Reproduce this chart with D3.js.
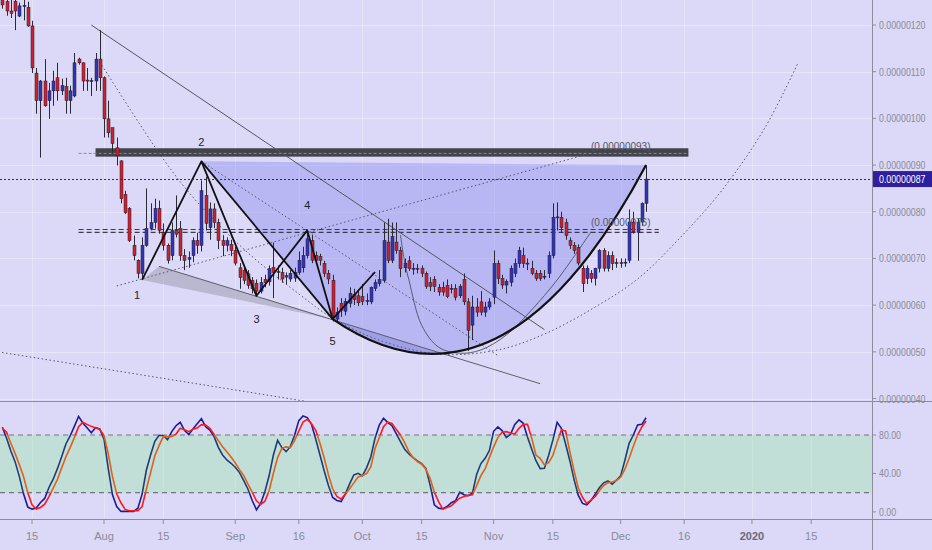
<!DOCTYPE html>
<html><head><meta charset="utf-8">
<script src="https://cdn.jsdelivr.net/npm/d3@7"></script>
<style>html,body{margin:0;padding:0;background:#dbd9f7;}svg{display:block;}</style>
</head><body>
<svg id="c" width="932" height="550"></svg>
<script>
// ---------------- DATA (prices in units of 1e-8) ----------------
const startDate = "2019-07-08";
const opens  = [127,125,123,125.1,121.9,124,123.8,119.8,109.7,103.8,108,103.8,105.9,108.7,105.9,106.8,103.8,104.8,112.7,111.9,108.2,108,108,112.7,
108.7,99.9,98,93.7,90.9,83.7,80.7,72.8,69.6,66.8,72.8,76.4,77.7,80.7,75.6,72.8,70.6,76,76.4,70.6,69.8,70.6,73.8,72.8,83.5,76.6,80.6,77.7,73.8,72.8,73,
71.7,68,67.5,66.7,65.3,64.7,63,65.5,65,68.1,67,67,66,65.6,65.8,67,68,70.6,73.8,70.6,70.4,68.9,66.8,65.3,57,60.3,58.7,60.4,62.3,62,
61.8,60.8,60.7,63.6,64.6,65.3,73.5,69.6,73.5,71.7,68,69.5,67.8,67.9,67.9,66.8,64.8,65.5,63.8,63.8,64.2,63.5,63.6,62,65.5,60.7,55.7,59.6,60.7,58.5,59.6,
61.7,68.9,65.7,64.3,64.9,66.8,68.9,70.6,68.9,67.9,66.8,66.8,66,66.8,70.6,78.8,78.8,77.7,73.8,72.8,72.3,67.9,65.7,66.8,65.7,67.9,71.7,67.9,70.6,68.9,
69.1,69,69.6,77.8,75.6,77.8,81.8];
const highs  = [128,126.5,126,126,124.8,125.5,125,120.9,110.8,108.2,112.7,107.6,110.2,111.9,108.5,108.7,107,114,113,112,110.8,108.7,114,118.9,
109,103.8,98,95.9,91,84.5,81,74.9,69.8,74.5,85,81.8,82.8,82.4,77.5,73.2,77.7,83.5,78,72,71.5,74.5,75.5,86.7,87.5,82,81.8,78.5,75,74.5,74,
72.5,69,68.5,67.5,66,65.5,66,66.5,68.5,73.4,68.5,68,67,67.5,68,71.5,72.5,76,75,71.5,71,69.5,67.5,66.5,59.5,61.5,61.5,63.8,63.5,63,
64.5,62.5,64,65.5,67.5,77.7,78.5,77.7,77.7,72.5,70,70.5,69,68.8,68.5,67.2,66,66.2,64.5,65,65.5,64.5,64.5,64.5,66.8,61.5,62,61.5,63,60.7,61.5,
71.7,69.6,66.5,65.5,68.5,70,72.5,72.3,70,69.5,67.5,67.5,67.5,71.5,81.8,82,80,78.5,74.5,73.5,73,68.5,68.5,67.5,68,72,72.2,71.5,71.5,
70,70,70,80.5,80,78.5,82,89.9];
const lows   = [123.5,122,121.5,118.9,121.7,121,119.6,109.7,101,91.6,102.5,99.9,102.7,103.8,105,101,101,104.5,111.5,105.9,105.9,104.8,105.9,105.9,
95.9,95.9,92.6,89.9,81.8,79.5,73.5,69.6,65.7,65.7,72.5,76,76.4,75.3,71.7,68.9,69.6,74.5,69.5,67.5,68,69.2,71,71.5,76,74,76.5,72,70.5,71.5,70.5,
68.5,63.5,64.5,63.5,62.5,61.8,62.5,63.8,64.2,61.5,65.5,64.8,64.5,65,65,66.5,67,70,69,68.8,68.5,66,64.5,56.5,56.3,57.5,57.8,59.5,60,59.8,
60,60,60.2,63,64,64.8,69,69,71,66,67,67.3,66.5,66.8,66,63.5,63,62.8,62,62,61.5,62.5,61,61.5,60,50.2,52.5,57.5,57.8,57.5,59,
60.2,64.5,63.5,62.5,64,66,68,68,67.5,66.4,65.2,65.2,65.5,65.8,70,76,75.5,74,72,71,68.5,62.8,64.5,64.8,64.2,67,67.2,67.2,67.5,
68,68,68.2,69,75.3,69.5,77,80];
const closes = [124.3,123,122.5,123,124.1,124.2,119.8,110.8,103.8,108,102.7,105.9,108,105.9,107,103.8,105.9,111.9,111.9,108,108,108.1,112.7,108.7,
99.9,96.9,94.6,92,82.8,79.8,73.8,70.6,66.8,72.8,76.4,77.7,80.7,76,72.8,69.6,76,75.2,70.6,69.6,70.2,73.8,72.8,84.5,77.5,80.6,77.7,73.8,72.8,73.8,71.7,
69,65.9,65.3,64.2,63.5,63,64.8,64.8,67.8,67,67.2,65.6,66.3,66.8,67,69.6,70.6,74.2,69.6,69.6,69.6,66.8,65.6,57.8,58.5,58.9,60.8,62.5,61.2,60.5,
60.8,61,63.8,64.8,65.5,73.8,69.6,74.7,71.7,67.8,69,67.8,67.9,67.7,66.8,64,64,64,62.8,62.8,61.8,63.6,61.7,64,60.7,54.6,59.6,58.5,58.5,59.6,60.7,
68.9,65.7,64.3,65.1,67.9,68.9,71.7,68.9,69,66.8,65.7,65.7,66.2,70.6,78.8,78.9,76.6,74.9,72.8,71.7,69,64.6,67.9,65.7,67.9,71.7,67.9,70.6,68.9,
69.1,69,69.2,77.8,75.7,77.8,81.8,87];
// Stochastic %K and %D
const stochK = [88,76.6,63.4,52.3,37,18.8,5,2.9,4,9.8,14,25.4,34,45,57.5,70.7,79,89,99.4,92.5,87.6,82.4,87.6,86.3,75.6,45.4,17.8,5.6,0.5,0.5,0.5,0.5,3.9,18.5,43.3,59.2,73.5,79.7,79.3,75.2,
83.5,89.7,93.2,84.9,80.4,86.3,91.8,97,88.7,85.2,78.3,67.2,59.2,54,50.6,46.5,40.9,32.6,23.6,11.8,2.2,8.8,21.2,37.8,59.2,74.5,66.9,62.7,67.9,79.7,95,99.8,98.1,91.1,75.6,59.2,42.6,27.4,15,11.9,
10.8,18.8,29.2,38.5,40.2,37.5,45.8,57.2,76.6,90.4,97.4,93.2,89.7,81.4,73.1,65.2,60.3,56.5,53,50.3,45.4,28.1,7.4,3.9,3.2,5.6,9.5,11.5,20.5,17.8,16.8,19.5,39.2,50.3,55.8,63.8,83.9,88.4,84.6,77.3,
80.7,91.1,95.7,92.2,77.9,65.2,53.3,45,45.4,58.9,74.9,93.2,87,70.7,53.3,33.6,17.1,8.8,7.4,11.9,18.5,25.4,30.2,32.3,28.8,33,37.5,53.7,71.4,80,90.4,91.1,98];
const stochD = [87,82.8,71.4,60.9,49.2,36.8,20.1,7.4,2.9,4.6,8.1,16,24.7,33.7,45.8,57.2,66.9,77.3,88.7,93.2,91.1,89,87.3,85.9,79.3,60.9,36.8,18.8,9.5,2.6,1.2,1.2,1.2,5.6,23.6,40.9,58.5,68.9,78.3,78.3,
78.3,81,87,85.6,83.5,85.9,87.3,90.8,90.4,87,80.7,74.2,67.9,62.7,57.2,51,44,37.8,28.8,20.5,11.5,7.7,11.1,22.2,40.2,56.5,66.2,67.6,66.9,74.2,84.2,93.5,96.3,91.8,84.9,71.4,56.1,38.5,24,16,
13.3,18.5,24,30.2,36.4,37.8,39.9,46.8,65.9,77.3,88.7,93.5,92.1,85.9,80,72.1,62.7,56.5,52.3,49.6,44.4,35,20.5,10.8,2.9,4.6,6.4,10.5,14.3,16,17.2,17.8,27.4,37.8,44.7,56.5,67.6,77.3,82.8,83.5,
82.1,81,87,91.1,91.1,76.6,59.2,55.8,48.9,51.3,58.9,72.4,85.2,84.2,62.7,43,24.7,15,8.8,12.2,16,22.2,27.4,30.5,31.2,32.6,36,44.4,55.8,68.3,80,88.4,94.6];
const priceTicks = [40,50,60,70,80,90,100,110,120];
const stochTicks = [0,40,80];
const stochBands = [20,80];
const timeTicks = ["2019-07-15","2019-08-01","2019-08-15","2019-09-01","2019-09-16","2019-10-01","2019-10-15","2019-11-01","2019-11-15","2019-12-01","2019-12-16","2020-01-01","2020-01-15"];
const timeTickLabels = ["15","Aug","15","Sep","16","Oct","15","Nov","15","Dec","16","2020","15"];
// Drawing-tool anchors: [date, price]
const wavePoints = [["2019-08-10",65.4],["2019-08-24",90.8],["2019-09-06",62.0],["2019-09-18",76.0],["2019-09-24",57.0],["2019-10-04",67.1]];
const waveLabels = ["1","2","3","4","5"];
const cupControl = ["2019-11-03",32.2];
const cupEnd = ["2019-12-07",90.0];
const downTrend = [["2019-07-29",120.0],["2019-11-13",54.76]];
const lowerTrend = [["2019-08-14",68.3],["2019-11-12",43.17]];
const dotFrom2 = [["2019-08-24",90.8],["2019-11-02",49.2]];
const dotRising = [["2019-08-04",64.1],["2019-11-23",92.3]];
const dotLowLeft = [["2019-07-07",50.0],["2019-09-19",39.2]];
const bigDotArc = [["2019-07-31",112.1],["2019-08-15",91.3],["2019-08-23",82.1],["2019-09-04",71.2],["2019-09-16",62.4],["2019-09-24",57.2],["2019-10-05",52.5],["2019-10-19",49.5],["2019-11-02",50.4],["2019-11-13",53.8],["2019-11-25",59.6],["2019-12-05",65.6],["2019-12-15",74.4],["2019-12-25",84.7],["2020-01-04",97.9],["2020-01-12",112.1]];
const thinArc = [["2019-10-10",75.0],["2019-10-11",69.2],["2019-10-12",65.4],["2019-10-15",55.7],["2019-10-19",51.0],["2019-10-24",49.7],["2019-10-29",50.4],["2019-11-04",53.6],["2019-11-10",59.0],["2019-11-16",65.4],["2019-11-24",75.7]];
const resistBand = {from:"2019-07-30", to:"2019-12-17", top:93.6, bottom:91.8, mid:92.5, dashFrom:"2019-07-26"};
const resistLabel = {date:"2019-11-24", price:93.3, text:"(0.00000093)"};
const supportLine = {from:"2019-07-26", to:"2019-12-10", p1:76.2, p2:75.6};
const supportLabel = {date:"2019-11-24", price:76.9, text:"(0.00000076)"};

// ---------------- SCALES ----------------
const W = 872, DAY = 864e5;
const pd = d3.utcParse("%Y-%m-%d");
const aug1 = Date.UTC(2019,7,1);
const x = d3.scaleUtc().domain([new Date(aug1 - 24.557*DAY), new Date(aug1 + 181.35*DAY)]).range([0, W]);
const y = d3.scaleLinear().domain([40,120]).range([398.5,25]);
const ys = d3.scaleLinear().domain([0,100]).range([511.9,415.8]);
const P = a => [x(pd(a[0])), y(a[1])];

const svg = d3.select("#c");
const defs = svg.append("defs");
defs.append("clipPath").attr("id","mainClip").append("rect").attr("x",0).attr("y",0).attr("width",W).attr("height",401);
defs.append("clipPath").attr("id","stClip").append("rect").attr("x",0).attr("y",402).attr("width",W).attr("height",117);

svg.append("rect").attr("width",932).attr("height",550).attr("fill","#dbd9f7");

const candles = opens.map((o,i)=>({date:d3.utcDay.offset(pd(startDate),i),o,h:highs[i],l:lows[i],c:closes[i]}));

// grid
const grid = svg.append("g");
grid.selectAll(".hg").data(priceTicks).join("line")
  .attr("x1",0).attr("x2",W).attr("y1",d=>Math.round(y(d))+0.5).attr("y2",d=>Math.round(y(d))+0.5)
  .attr("stroke","#ffffff").attr("stroke-opacity",0.35);
grid.selectAll(".vg").data(timeTicks).join("line")
  .attr("x1",d=>Math.round(x(pd(d)))+0.5).attr("x2",d=>Math.round(x(pd(d)))+0.5).attr("y1",0).attr("y2",519)
  .attr("stroke","#ffffff").attr("stroke-opacity",0.3);

// ---------------- MAIN PANE ----------------
const main = svg.append("g").attr("clip-path","url(#mainClip)");
const p2 = P(wavePoints[1]), p5 = P(wavePoints[4]), pc = P(cupControl), pe = P(cupEnd);

// cup shading
const cupPath = d3.path();
cupPath.moveTo(p2[0],p2[1]); cupPath.lineTo(pe[0],pe[1]);
cupPath.quadraticCurveTo(pc[0],pc[1],p5[0],p5[1]); cupPath.closePath();
main.append("path").attr("d",cupPath.toString()).attr("fill","#8f8ff0").attr("fill-opacity",0.45);

// grey triangle 1 - A - 5
const triPts = [P(lowerTrend[0]), P(wavePoints[0]), p5];
main.append("path").attr("d",d3.line()(triPts)+"Z").attr("fill","#9090a0").attr("fill-opacity",0.45);
// sliver between lower trend line and arc after point 5
{
  const a = P(lowerTrend[0]), b = P(lowerTrend[1]);
  const q = (t)=>[(1-t)*(1-t)*p5[0]+2*t*(1-t)*pc[0]+t*t*pe[0],(1-t)*(1-t)*p5[1]+2*t*(1-t)*pc[1]+t*t*pe[1]];
  const pts=[]; for(let t=0;t<=0.33;t+=0.01) pts.push(q(t));
  const lastPt = pts[pts.length-1];
  const lineY = xx => a[1]+(b[1]-a[1])*(xx-a[0])/(b[0]-a[0]);
  const poly = [p5,[lastPt[0],lineY(lastPt[0])]].concat(pts.reverse());
  main.append("path").attr("d",d3.line()(poly)+"Z").attr("fill","#7070d0").attr("fill-opacity",0.35);
}

// resistance band
main.append("rect").attr("x",x(pd(resistBand.from))).attr("width",x(pd(resistBand.to))-x(pd(resistBand.from)))
  .attr("y",y(resistBand.top)).attr("height",y(resistBand.bottom)-y(resistBand.top)).attr("fill","#2e2e33").attr("fill-opacity",0.88);
main.append("line").attr("x1",x(pd(resistBand.dashFrom))).attr("x2",x(pd(resistBand.to))).attr("y1",y(resistBand.mid)).attr("y2",y(resistBand.mid))
  .attr("stroke","#8a8a95").attr("stroke-width",1).attr("stroke-dasharray","3,2");
// support double dashed
[supportLine.p1, supportLine.p2].forEach(p=>{
  main.append("line").attr("x1",x(pd(supportLine.from))).attr("x2",x(pd(supportLine.to))).attr("y1",y(p)).attr("y2",y(p))
   .attr("stroke","#3c3c48").attr("stroke-width",1.2).attr("stroke-dasharray","5,3");
});

// dotted/thin lines
const dotted = (pts,curve)=>main.append("path").attr("d",d3.line().curve(curve||d3.curveLinear)(pts.map(P)))
  .attr("fill","none").attr("stroke","#55556a").attr("stroke-width",1).attr("stroke-dasharray","1.5,2.5");
dotted(dotFrom2); dotted(dotRising); dotted(dotLowLeft); dotted(bigDotArc, d3.curveCatmullRom);
main.append("path").attr("d",d3.line().curve(d3.curveCatmullRom)(thinArc.map(P))).attr("fill","none").attr("stroke","#5a5a6a").attr("stroke-width",1);
main.append("path").attr("d",d3.line()(downTrend.map(P))).attr("fill","none").attr("stroke","#55555f").attr("stroke-width",1);
main.append("path").attr("d",d3.line()(lowerTrend.map(P))).attr("fill","none").attr("stroke","#60606a").attr("stroke-width",1);

// candles
const cg = main.append("g");
cg.selectAll(".w").data(candles).join("line")
  .attr("x1",d=>Math.round(x(d.date))+0.5).attr("x2",d=>Math.round(x(d.date))+0.5)
  .attr("y1",d=>y(d.h)).attr("y2",d=>y(d.l)).attr("stroke","#2a2a35").attr("stroke-width",1);
cg.selectAll(".b").data(candles).join("rect")
  .attr("x",d=>Math.round(x(d.date))-1).attr("width",3)
  .attr("y",d=>y(Math.max(d.o,d.c))).attr("height",d=>Math.max(1,Math.abs(y(d.o)-y(d.c))))
  .attr("fill",d=>d.c>=d.o?"#3434b8":"#cf2030").attr("stroke","#1d1d2a").attr("stroke-width",0.5);

// wave zigzag
main.append("path").attr("d",d3.line()(wavePoints.map(P))).attr("fill","none").attr("stroke","#111").attr("stroke-width",1.8).attr("stroke-linejoin","round");
main.append("path").attr("d",d3.line()([p2,p5])).attr("fill","none").attr("stroke","#111").attr("stroke-width",1.8);
// cup arc
const arcPath = d3.path(); arcPath.moveTo(p5[0],p5[1]); arcPath.quadraticCurveTo(pc[0],pc[1],pe[0],pe[1]);
main.append("path").attr("d",arcPath.toString()).attr("fill","none").attr("stroke","#111").attr("stroke-width",2.2);

// wave labels
const labOff = [[-5,19],[0,-15],[0,27],[0,-21],[0,26]];
waveLabels.forEach((t,i)=>{
  const p = P(wavePoints[i]);
  main.append("text").attr("x",p[0]+labOff[i][0]).attr("y",p[1]+labOff[i][1]).attr("text-anchor","middle")
    .attr("font-family","Liberation Sans, Arial, sans-serif").attr("font-size",11).attr("fill","#222").text(t);
});
// line labels
[resistLabel, supportLabel].forEach(l=>{
  main.append("text").attr("x",x(pd(l.date))).attr("y",y(l.price)).attr("font-family","Liberation Sans, Arial, sans-serif")
   .attr("font-size",10).attr("fill","#55556a").text(l.text);
});

// current price line
const last = candles[candles.length-1].c;
main.append("line").attr("x1",0).attr("x2",W).attr("y1",Math.round(y(last))+0.5).attr("y2",Math.round(y(last))+0.5)
  .attr("stroke","#2a1fb0").attr("stroke-width",1).attr("stroke-dasharray","2,2");

// ---------------- STOCH PANE ----------------
const st = svg.append("g").attr("clip-path","url(#stClip)");
st.append("rect").attr("x",0).attr("width",W).attr("y",ys(stochBands[1])).attr("height",ys(stochBands[0])-ys(stochBands[1]))
  .attr("fill","#a8e6b8").attr("fill-opacity",0.5);
stochBands.forEach(b=>st.append("line").attr("x1",0).attr("x2",W).attr("y1",ys(b)).attr("y2",ys(b))
  .attr("stroke","#74747c").attr("stroke-width",1.2).attr("stroke-dasharray","5,4"));
const gD = defs.append("linearGradient").attr("id","gD").attr("gradientUnits","userSpaceOnUse").attr("x1",0).attr("x2",0).attr("y1",ys(100)).attr("y2",ys(0));
[[0,"#ff1a1a"],[0.2,"#ff1a1a"],[0.2,"#e0601a"],[0.8,"#e0601a"],[0.8,"#ff1a1a"],[1,"#ff1a1a"]].forEach(s=>gD.append("stop").attr("offset",s[0]).attr("stop-color",s[1]));
const gK = defs.append("linearGradient").attr("id","gK").attr("gradientUnits","userSpaceOnUse").attr("x1",0).attr("x2",0).attr("y1",ys(100)).attr("y2",ys(0));
[[0,"#1c1c9a"],[0.2,"#1c1c9a"],[0.2,"#1d3d78"],[0.8,"#1d3d78"],[0.8,"#1c1c9a"],[1,"#1c1c9a"]].forEach(s=>gK.append("stop").attr("offset",s[0]).attr("stop-color",s[1]));
const sl = arr => d3.line().x((d,i)=>x(candles[i].date)).y(d=>ys(d))(arr);
st.append("path").attr("d",sl(stochK)).attr("fill","none").attr("stroke","url(#gK)").attr("stroke-width",1.6);
st.append("path").attr("d",sl(stochD)).attr("fill","none").attr("stroke","url(#gD)").attr("stroke-width",1.6);

// ---------------- FRAME & AXES ----------------
svg.append("line").attr("x1",0).attr("x2",932).attr("y1",401.5).attr("y2",401.5).attr("stroke","#8c8c9c");
svg.append("line").attr("x1",0).attr("x2",932).attr("y1",519.5).attr("y2",519.5).attr("stroke","#8c8c9c");
svg.append("line").attr("x1",W+0.5).attr("x2",W+0.5).attr("y1",0).attr("y2",550).attr("stroke","#8c8c9c");

const axFont = "Liberation Sans, Arial, sans-serif";
// condensed axis label: text drawn at origin inside a horizontally-squeezed group
const squeezed = (g, tx, ty, str, fill) => g.append("g").attr("transform",`translate(${tx},${ty}) scale(0.8,1)`)
  .append("text").attr("x",0).attr("y",0).attr("font-family",axFont).attr("font-size",11).attr("fill",fill).text(str);
const pa = svg.append("g");
pa.selectAll(".pt").data(priceTicks).join("line").attr("x1",W).attr("x2",W+4).attr("y1",d=>y(d)).attr("y2",d=>y(d)).attr("stroke","#8c8c9c");
priceTicks.forEach(d=>squeezed(pa, W+7, y(d)+4, (d*1e-8).toFixed(8), "#8a8a98"));
pa.append("rect").attr("x",W+1).attr("y",y(last)-8).attr("width",59).attr("height",16).attr("fill","#2f1f9f");
squeezed(pa, W+7, y(last)+4, (last*1e-8).toFixed(8), "#ffffff");
pa.selectAll(".st").data(stochTicks).join("line").attr("x1",W).attr("x2",W+4).attr("y1",d=>ys(d)).attr("y2",d=>ys(d)).attr("stroke","#8c8c9c");
stochTicks.forEach(d=>squeezed(pa, W+7, ys(d)+4, d.toFixed(2), "#8a8a98"));

const ta = svg.append("g");
ta.selectAll(".tt").data(timeTicks).join("line").attr("x1",d=>x(pd(d))).attr("x2",d=>x(pd(d))).attr("y1",520).attr("y2",524).attr("stroke","#8c8c9c");
ta.selectAll(".tl").data(timeTicks).join("text").attr("x",d=>x(pd(d))).attr("y",540).attr("text-anchor","middle")
  .attr("font-family",axFont).attr("font-size",11).attr("font-weight",(d,i)=>timeTickLabels[i]==="2020"?"bold":"normal")
  .attr("fill",(d,i)=>timeTickLabels[i]==="2020"?"#6a6a78":"#8a8a98").text((d,i)=>timeTickLabels[i]);
</script>
</body></html>
